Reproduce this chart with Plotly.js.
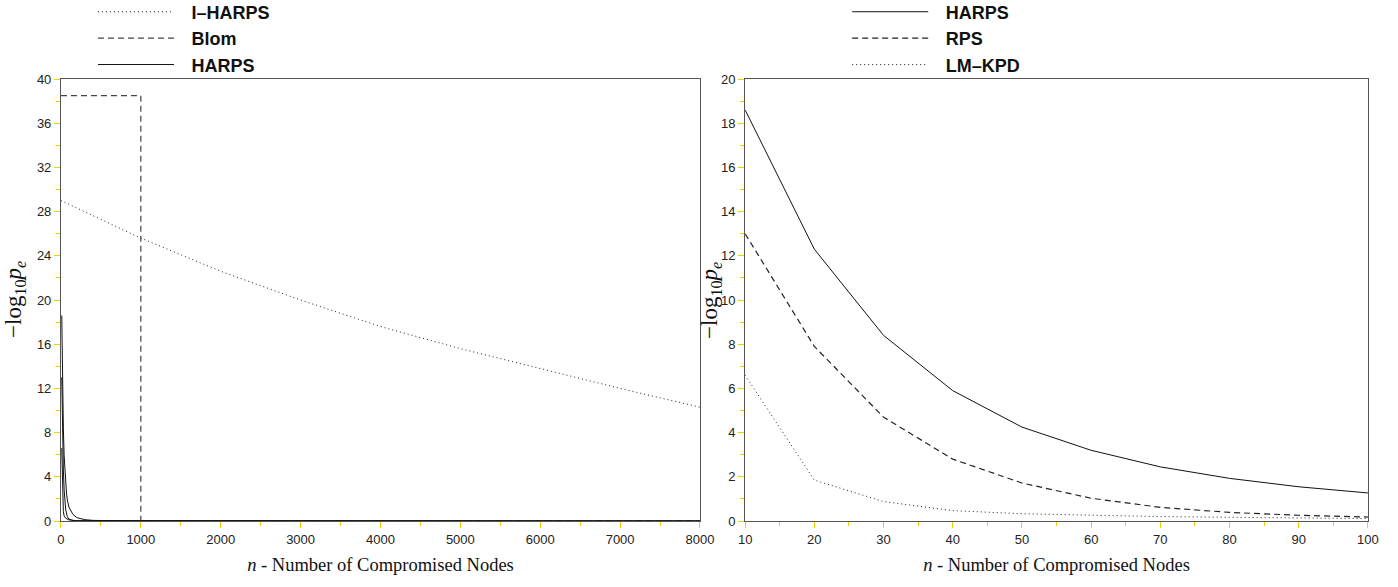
<!DOCTYPE html>
<html>
<head>
<meta charset="utf-8">
<script src="https://cdn.plot.ly/plotly-3.0.1.min.js"></script>
<style>html,body{margin:0;padding:0;background:#fff;}#chart{width:1398px;height:587px;}</style>
</head>
<body>
<div id="chart"></div>
<script>
// Left panel data
const iharpsX = [0, 1000, 2000, 3000, 4000, 5000, 6000, 7000, 8000];
const iharpsY = [29.0, 25.6, 22.6, 20.0, 17.6, 15.6, 13.8, 12.0, 10.3];
const blomX = [0, 1000, 1000, 8000];
const blomY = [38.5, 38.5, 0, 0];
const harpsWideX = [10, 20, 30, 40, 50, 60, 70, 80, 90, 100, 150, 200, 300, 400, 600, 1000, 2000, 4000, 8000];
const harpsWideY = [18.6, 12.3, 8.4, 5.9, 4.25, 3.2, 2.45, 1.9, 1.55, 1.25, 0.6, 0.3, 0.12, 0.06, 0.03, 0.01, 0, 0, 0];
const harpsMidX = [10, 20, 30, 40, 50, 60, 80, 100, 150, 200, 8000];
const harpsMidY = [13.0, 7.9, 4.7, 2.8, 1.7, 1.0, 0.4, 0.18, 0.05, 0.02, 0];
const harpsLowX = [10, 20, 30, 40, 60, 100, 200, 8000];
const harpsLowY = [6.6, 1.85, 0.85, 0.45, 0.25, 0.1, 0.03, 0];

// Right panel data
const nodes = [10, 20, 30, 40, 50, 60, 70, 80, 90, 100];
const harps = [18.6, 12.3, 8.4, 5.9, 4.25, 3.2, 2.45, 1.93, 1.55, 1.27];
const rps = [13.0, 7.9, 4.7, 2.8, 1.72, 1.03, 0.62, 0.39, 0.26, 0.18];
const lmkpd = [6.6, 1.85, 0.88, 0.47, 0.33, 0.25, 0.2, 0.17, 0.13, 0.11];

// Legend labels and titles
const leftNames = ['I\u2013HARPS', 'Blom', 'HARPS'];
const rightNames = ['HARPS', 'RPS', 'LM\u2013KPD'];
const xTitle = '<i>n</i> - Number of Compromised Nodes';
const yTitle = '\u2212log<sub>10</sub><i>p<sub>e</sub></i>';
const GAP = '\u2002\u2009';

const DOT = '1px,3px';
const DASH = '6px,4px';

const traces = [
  {x: iharpsX, y: iharpsY, name: GAP + leftNames[0], mode: 'lines', line: {color: '#222', width: 1, dash: DOT}, xaxis: 'x', yaxis: 'y', legend: 'legend'},
  {x: blomX, y: blomY, name: GAP + leftNames[1], mode: 'lines', line: {color: '#444', width: 1.2, dash: DASH}, xaxis: 'x', yaxis: 'y', legend: 'legend'},
  {x: harpsWideX, y: harpsWideY, name: GAP + leftNames[2], mode: 'lines', line: {color: '#111', width: 1}, xaxis: 'x', yaxis: 'y', legend: 'legend', legendgroup: 'lh'},
  {x: harpsMidX, y: harpsMidY, name: GAP + leftNames[2], mode: 'lines', line: {color: '#111', width: 1}, xaxis: 'x', yaxis: 'y', showlegend: false, legendgroup: 'lh'},
  {x: harpsLowX, y: harpsLowY, name: GAP + leftNames[2], mode: 'lines', line: {color: '#111', width: 1}, xaxis: 'x', yaxis: 'y', showlegend: false, legendgroup: 'lh'},
  {x: nodes, y: harps, name: GAP + rightNames[0], mode: 'lines', line: {color: '#111', width: 1}, xaxis: 'x2', yaxis: 'y2', legend: 'legend2'},
  {x: nodes, y: rps, name: GAP + rightNames[1], mode: 'lines', line: {color: '#222', width: 1.2, dash: DASH}, xaxis: 'x2', yaxis: 'y2', legend: 'legend2'},
  {x: nodes, y: lmkpd, name: GAP + rightNames[2], mode: 'lines', line: {color: '#222', width: 1, dash: DOT}, xaxis: 'x2', yaxis: 'y2', legend: 'legend2'}
];

const tickFont = {family: 'Liberation Sans, Arial, sans-serif', size: 13, color: '#222'};
const xTitleFont = {family: 'Liberation Serif, DejaVu Serif, serif', size: 18.5, color: '#111'};
const yTitleFont = {family: 'Liberation Serif, DejaVu Serif, serif', size: 23, color: '#111'};
const YELLOW = '#f5d000';

function xax(domain, range, dtick, mdt, anchor) {
  return {
    domain: domain, range: range, anchor: anchor, dtick: dtick, tick0: range[0],
    showgrid: false, zeroline: false, showline: true, linecolor: '#555', linewidth: 1, mirror: true,
    ticks: 'outside', ticklen: 6, tickwidth: 1, tickcolor: YELLOW, tickfont: tickFont,
    minor: {dtick: mdt, ticks: 'outside', ticklen: 4, tickcolor: YELLOW, showgrid: false},
    title: {text: xTitle, font: xTitleFont, standoff: 12}
  };
}
function yax(domain, range, dtick, mdt, anchor) {
  return {
    domain: domain, range: range, anchor: anchor, dtick: dtick, tick0: 0,
    showgrid: false, zeroline: false, showline: true, linecolor: '#555', linewidth: 1, mirror: true,
    ticks: 'outside', ticklen: 6, tickwidth: 1, tickcolor: YELLOW, tickfont: tickFont,
    minor: {dtick: mdt, ticks: 'outside', ticklen: 4, tickcolor: YELLOW, showgrid: false}
  };
}

const legFont = {family: 'Liberation Sans, Arial, sans-serif', size: 18, color: '#111', weight: 'bold'};

const layout = {
  width: 1398, height: 587,
  margin: {l: 0, r: 0, t: 0, b: 0, autoexpand: false},
  paper_bgcolor: '#fff', plot_bgcolor: '#fff',
  xaxis: xax([0.0436, 0.5007], [0, 8000], 1000, 500, 'y'),
  yaxis: yax([0.1124, 0.8654], [0, 40], 4, 2, 'x'),
  xaxis2: xax([0.533, 0.9785], [10, 100], 10, 5, 'y2'),
  yaxis2: yax([0.1124, 0.8654], [0, 20], 2, 1, 'x2'),
  legend: {x: 0.0665, y: 1.011, xanchor: 'left', yanchor: 'top', bgcolor: 'rgba(0,0,0,0)', font: legFont, itemwidth: 76, tracegroupgap: 0},
  legend2: {x: 0.606, y: 1.011, xanchor: 'left', yanchor: 'top', bgcolor: 'rgba(0,0,0,0)', font: legFont, itemwidth: 76, tracegroupgap: 0},
  annotations: [
    {text: yTitle, xref: 'paper', yref: 'paper', x: 15 / 1398, y: 0.489, xanchor: 'center', yanchor: 'middle', textangle: -90, showarrow: false, font: yTitleFont},
    {text: yTitle, xref: 'paper', yref: 'paper', x: 711 / 1398, y: 0.489, xanchor: 'center', yanchor: 'middle', textangle: -90, showarrow: false, font: yTitleFont}
  ],
  showlegend: true
};

Plotly.newPlot('chart', traces, layout, {displayModeBar: false, staticPlot: true});
</script>
</body>
</html>
